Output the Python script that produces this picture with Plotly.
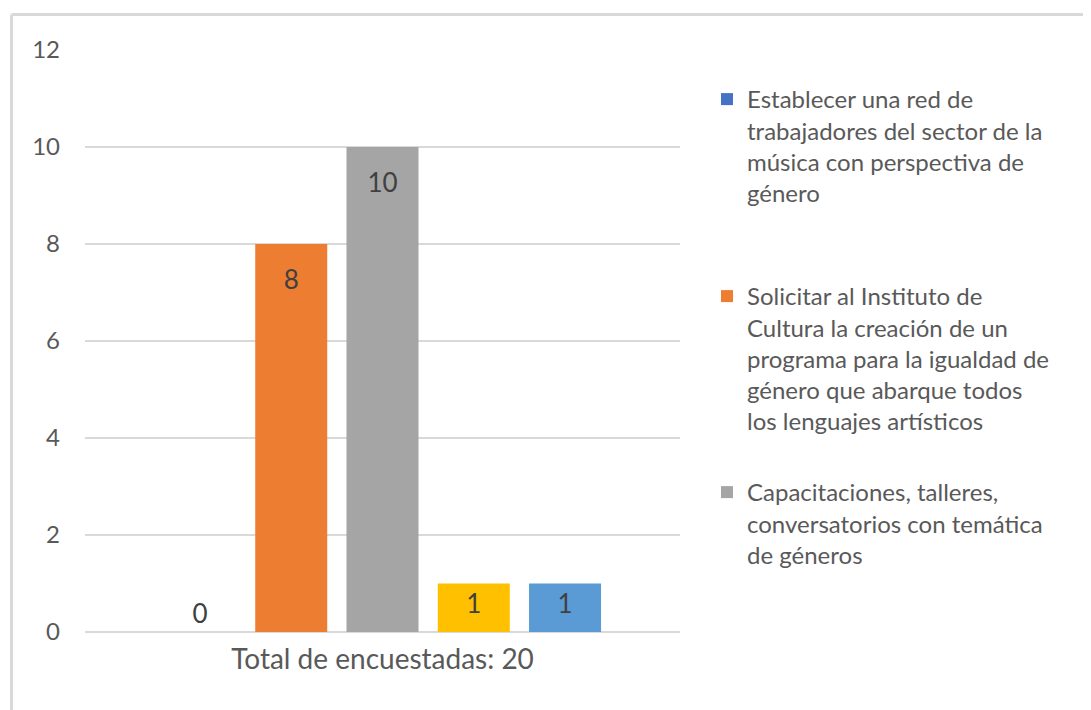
import plotly.graph_objects as go

category = ["Total de encuestadas: 20"]
series_names = [
    "Establecer una red de<br>trabajadores del sector de la<br>música con perspectiva de<br>género",
    "Solicitar al Instituto de<br>Cultura la creación de un<br>programa para la igualdad de<br>género que abarque todos<br>los lenguajes artísticos",
    "Capacitaciones, talleres,<br>conversatorios con temática<br>de géneros",
    "Otra opción 1",
    "Otra opción 2",
]
values = [0, 8, 10, 1, 1]
colors = ["#4472C4", "#ED7D31", "#A5A5A5", "#FFC000", "#5B9BD5"]
legend_ids = ["legend", "legend2", "legend3", None, None]
y_ticks = [0, 2, 4, 6, 8, 10, 12]

FONT = "Lato"
OFF = 8  # page body margin
W, H = 1091 - OFF, 710 - OFF
L, R, T, B = 85 - OFF, 680 - OFF, 50 - OFF, 632 - OFF
pw, ph = R - L, B - T

def px_x(x):
    return (x - L) / pw

def px_y(y):
    return 1 - (y - T) / ph

spacer = "<span style='font-size:8px'>&nbsp;</span><br>"

fig = go.Figure()
for name, v, c, lg in zip(series_names, values, colors, legend_ids):
    kw = dict(
        x=category, y=[v], name=name, marker=dict(color=c, line=dict(width=0)),
        textfont=dict(family=FONT, size=26, color="#404040"),
        cliponaxis=False,
    )
    if v == 0:
        kw.update(textposition="outside", texttemplate="%{y}")
    elif v >= 2:
        kw.update(textposition="inside", insidetextanchor="end",
                  texttemplate=spacer + "%{y}")
    else:
        kw.update(textposition="inside", insidetextanchor="end",
                  texttemplate="%{y}")
    if lg is None:
        kw["showlegend"] = False
    else:
        kw["legend"] = lg
    fig.add_trace(go.Bar(**kw))

legend_common = dict(
    font=dict(family=FONT, size=24, color="#595959"),
    bgcolor="rgba(0,0,0,0)", borderwidth=0,
    xanchor="left", yanchor="top", valign="top",
    itemclick=False, itemdoubleclick=False,
)
fig.update_layout(
    width=W, height=H,
    margin=dict(l=L, r=W - R, t=T, b=H - B),
    paper_bgcolor="white", plot_bgcolor="white",
    barmode="group", bargap=0.233, bargroupgap=0.211,
    showlegend=True,
    legend=dict(x=px_x(699), y=px_y(69), **legend_common),
    legend2=dict(x=px_x(699), y=px_y(266), **legend_common),
    legend3=dict(x=px_x(699), y=px_y(462), **legend_common),
    xaxis=dict(
        showgrid=False, showline=False, ticks="", ticklabelstandoff=8,
        tickfont=dict(family=FONT, size=28, color="#595959"),
    ),
    yaxis=dict(
        range=[0, 12], tickvals=y_ticks, showgrid=True,
        gridcolor="#D9D9D9", gridwidth=1.5,
        zeroline=True, zerolinecolor="#D9D9D9", zerolinewidth=1.5,
        showline=False, ticks="", ticklabelstandoff=24,
        tickfont=dict(family=FONT, size=24, color="#595959"),
    ),
    shapes=[
        dict(type="line", xref="paper", yref="paper",
             x0=px_x(11.5 - OFF), x1=px_x(1100), y0=px_y(14.5 - OFF), y1=px_y(14.5 - OFF),
             line=dict(color="#D9D9D9", width=3)),
        dict(type="line", xref="paper", yref="paper",
             x0=px_x(11.5 - OFF), x1=px_x(11.5 - OFF), y0=px_y(14.5 - OFF), y1=px_y(720),
             line=dict(color="#D9D9D9", width=3)),
    ],
)

fig.write_html("out.html")
